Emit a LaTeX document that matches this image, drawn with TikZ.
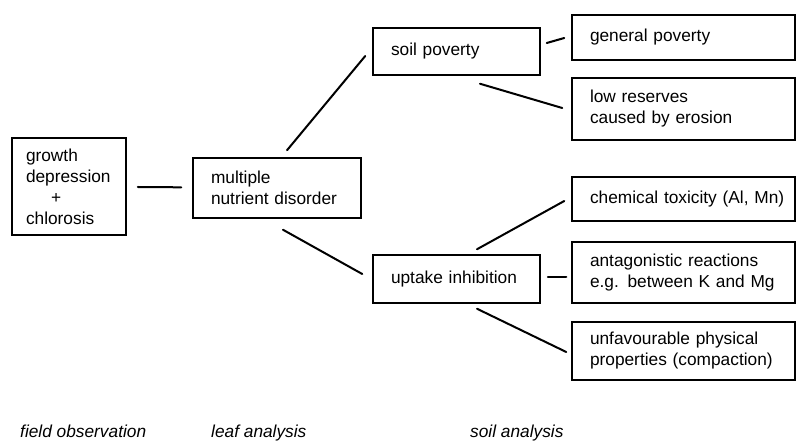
\documentclass[tikz,border=0pt]{standalone}
\usepackage{fontspec}
\setmainfont{Liberation Sans}
\usetikzlibrary{calc,positioning}

\begin{document}
\begin{tikzpicture}
[x=1pt,y=-1pt,
font=\fontsize{17.3}{21}\selectfont,
box/.style={draw,line width=1.5pt,inner xsep=18pt,inner ysep=0pt,align=left},
link/.style={line width=2pt,line cap=round},
lbl/.style={anchor=base west,inner sep=0pt,font=\fontsize{17.3}{21}\selectfont\itshape}]
\useasboundingbox (0,0) rectangle (798,444);

% field observation
\node[box,inner xsep=14pt,text width=86pt,minimum height=97pt] (growth) at (69,186.5)
  {growth\\depression\\\hspace*{25pt}+\\chlorosis};

% leaf analysis
\node[box,text width=132pt,minimum height=60pt] (multi) at (277,188) {multiple\\nutrient disorder};
\draw[link,shorten <=11pt,shorten >=11pt] (growth) -- (multi);

% soil analysis
\node[box,text width=131pt,minimum height=47pt] (soil) at (456.5,51.5) {soil poverty};
\node[box,text width=131pt,minimum height=48pt] (uptake) at (456.5,279) {uptake inhibition};
\draw[link] ($(multi.north)+(10,-7)$) -- ($(soil.west)+(-7,4.5)$);
\draw[link] ($(multi.south)+(6,11)$) -- ($(uptake.west)+(-10,-5)$);

\node[box,text width=187pt,minimum height=45pt] (general) at (683.5,37.5) {general poverty};
\node[box,text width=187pt,minimum height=62pt] (lowres) at (683.5,109) {low reserves\\caused by erosion};
\draw[link] ($(soil.east)+(6,-8.5)$) -- ($(general.west)+(-7,0.5)$);
\draw[link] ($(soil.south)+(23.5,8)$) -- ($(lowres.west)+(-9,-1)$);

\node[box,text width=187pt,minimum height=44pt] (chem) at (683.5,199) {\mbox{chemical toxicity (Al, Mn)}};
\node[box,text width=187pt,minimum height=61pt] (antag) at (683.5,272.5) {antagonistic reactions\\e.g. between K and Mg};
\node[box,text width=187pt,minimum height=58pt] (unfav) at (683.5,351) {unfavourable physical\\properties (compaction)};
\draw[link] ($(uptake.north)+(20.5,-5)$) -- ($(chem.west)+(-7,2)$);
\draw[link] ($(uptake.east)+(7,-2)$) -- ($(antag.west)+(-5,4.5)$);
\draw[link] ($(uptake.south)+(20.5,5)$) -- ($(unfav.west)+(-5,1)$);

% column labels
\node[lbl] (fieldlbl) at (20,437) {field observation};
\node[lbl] (leaflbl) at (211,437) {leaf analysis};
\node[lbl] (soillbl) at (470,437) {soil analysis};
\end{tikzpicture}
\end{document}
